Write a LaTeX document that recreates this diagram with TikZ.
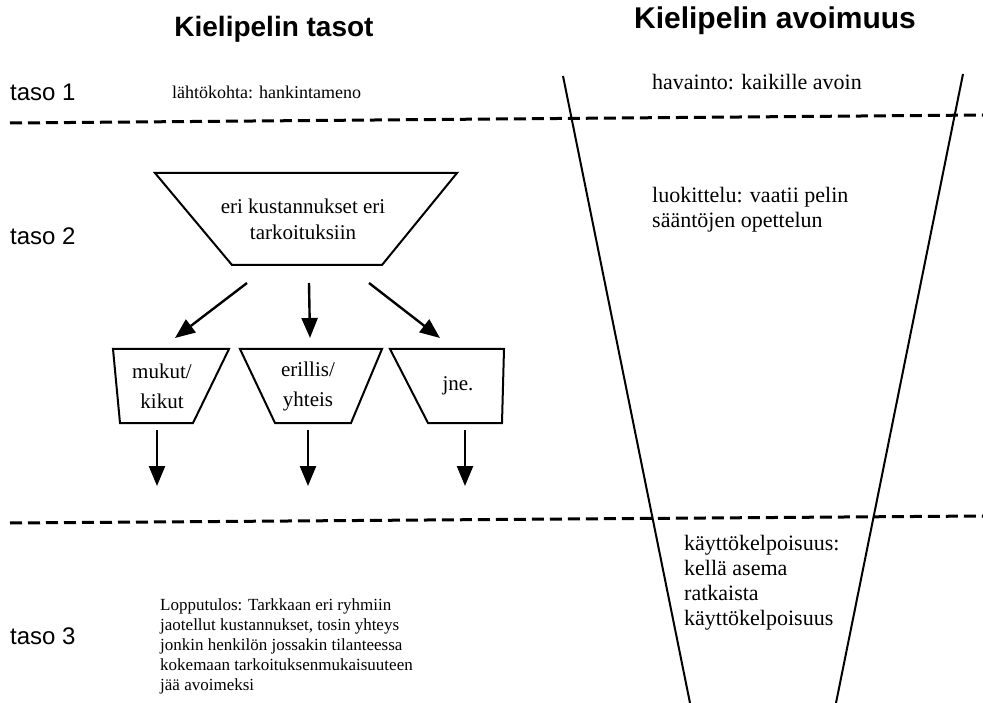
\documentclass[tikz,border=0pt]{standalone}
\usepackage{fontspec}
\setmainfont{Liberation Serif}
\setsansfont{Liberation Sans}
\usetikzlibrary{arrows.meta,positioning,calc}

\begin{document}
\begin{tikzpicture}[
  x=1pt, y=-1pt,
  >={Triangle[length=20pt,width=16pt]},
  head/.style={font=\fontsize{28}{32}\selectfont\sffamily\bfseries, inner sep=0pt},
  level/.style={font=\fontsize{24}{28}\selectfont\sffamily, anchor=west, inner sep=0pt},
  note/.style={font=\fontsize{18}{20}\selectfont, anchor=west, inner sep=0pt, align=left},
  wide/.style={font=\fontsize{22}{25}\selectfont, anchor=west, inner sep=0pt, align=left},
  part/.style={inner sep=0pt, align=center, font=\fontsize{21}{30}\selectfont},
  outline/.style={draw, line width=2pt},
  arr/.style={->, line width=2.4pt},
  sep/.style={line width=3pt, dash pattern=on 12pt off 6pt},
  funnel/.style={line width=2pt}
]
\useasboundingbox (0,0) rectangle (983,703);
% otsikot
\node[head] (hl) at (274,29) {Kielipelin tasot};
\node[head, font=\fontsize{30}{34}\selectfont\sffamily\bfseries] (hr) at (775,21) {Kielipelin avoimuus};
\node[level] (taso1) at (10,92) {taso 1};
\node[level] (taso2) at (10,236) {taso 2};
\node[level] (taso3) at (10,636) {taso 3};
% tasojen rajat
\coordinate (d1a) at (10,123);
\coordinate (d1b) at (983,115);
\coordinate (d2a) at (10,523);
\coordinate (d2b) at (983,516);
\draw[sep] (d1a) -- (d1b);
\draw[sep] (d2a) -- (d2b);
% suppilo
\coordinate (fl1) at (563,76);
\coordinate (fl2) at (690,703);
\coordinate (fr1) at (963,74);
\coordinate (fr2) at (836,703);
\draw[funnel] (fl1) -- (fl2);
\draw[funnel] (fr1) -- (fr2);
% tekstit
\node[note] (lahto) at (172,92) {lähtökohta: hankintameno};
\node[note, font=\fontsize{17}{20}\selectfont] (loppu) at (160,646) {Lopputulos: Tarkkaan eri ryhmiin\\jaotellut kustannukset, tosin yhteys\\jonkin henkilön jossakin tilanteessa\\kokemaan tarkoituksenmukaisuuteen\\jää avoimeksi};
\node[wide] (hav) at (652,82) {havainto: kaikille avoin};
\node[wide] (luok) at (652,210) {luokittelu: vaatii pelin\\sääntöjen opettelun};
\node[wide] (kaytto) at (684,583) {käyttökelpoisuus:\\kellä asema\\ratkaista\\käyttökelpoisuus};
% kustannusten jako
\node[part, font=\fontsize{21}{26}\selectfont] (kust) at (303,219) {eri kustannukset eri\\tarkoituksiin};
\node[part] (mukut) at (162,386) {mukut/\\kikut};
\node[part] (erillis) at (308,386) {erillis/\\yhteis};
\node[part] (jne) at (458,386) {jne.};
\foreach \n/\a/\b/\c/\d/\h in {kust/-148/154/79/-71/46, mukut/-49/67/31/-42/37,
    erillis/-68/74/43/-33/37, jne/-68/46/44/-30/37}
  \draw[outline] ($(\n)+(\a,-\h)$) -- ($(\n)+(\b,-\h)$) -- ($(\n)+(\c,\h)$) -- ($(\n)+(\d,\h)$) -- cycle;
\draw[arr] ($(kust)+(-56,64)$) -- ($(mukut)+(13,-48)$);
\draw[arr] ($(kust)+(6,64)$) -- ($(erillis)+(2,-48)$);
\draw[arr] ($(kust)+(66,64)$) -- ($(jne)+(-18,-48)$);
\foreach \t/\dx in {mukut/-5,erillis/0,jne/7}
  \draw[arr] ($(\t)+(\dx,44)$) -- ++(0,56);
\end{tikzpicture}
\end{document}
